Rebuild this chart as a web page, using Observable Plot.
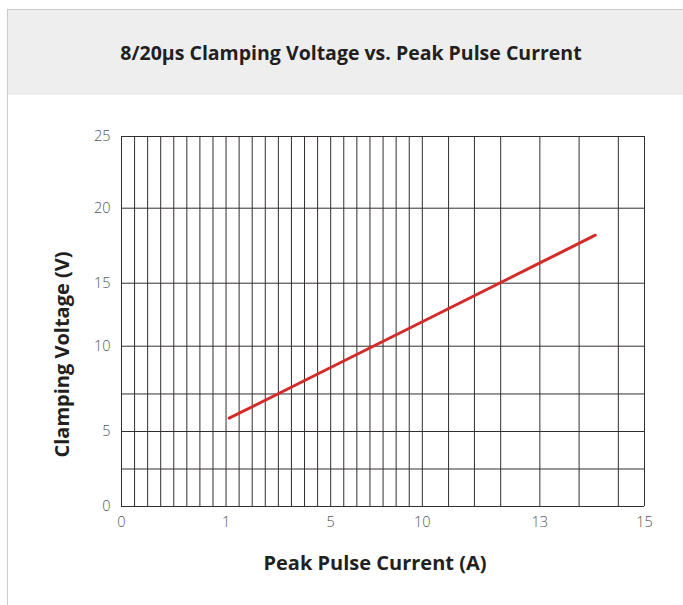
<!DOCTYPE html>
<html>
<head>
<meta charset="utf-8">
<script src="https://cdn.jsdelivr.net/npm/d3@7"></script>
<script src="https://cdn.jsdelivr.net/npm/@observablehq/plot@0.6"></script>
<style>
  html, body { margin: 0; padding: 0; background: #ffffff; }
  body { width: 683px; height: 605px; overflow: hidden; position: relative; font-family: "Open Sans", sans-serif; }
  #card { position: absolute; left: 7px; top: 9px; width: 686px; height: 620px;
          border-left: 1.5px solid #cbcbcb; border-top: 1.5px solid #cbcbcb; }
  #head { height: 85px; background: #eeeeee; display: flex; align-items: center; justify-content: center;
          font-weight: 700; font-size: 19.5px; color: #231f20; }
  #chart { position: absolute; left: 0; top: 95px; }
</style>
</head>
<body>
<div id="card"><div id="head">8/20µs Clamping Voltage vs. Peak Pulse Current</div></div>
<div id="chart"></div>
<script>
// Data
const current = [1.12, 5, 10, 13, 14.06];         // Peak Pulse Current (A)
const voltage = [5.78, 8.75, 11.94, 16.35, 18.2]; // Clamping Voltage (V)

// Axis tick labels (non-uniform chart paper)
const xTicks = [0, 1, 5, 10, 13, 15];
const yTicks = [0, 5, 10, 15, 20, 25];

// Grid line values
const xGrid = [0, 0.125, 0.25, 0.375, 0.5, 0.625, 0.75, 0.875, 1,
               1.5, 2, 2.5, 3, 3.5, 4, 4.5, 5,
               5.714, 6.429, 7.143, 7.857, 8.571, 9.286, 10,
               10.67, 11.33, 12, 13, 13.75, 14.5, 15];
const yGrid = [0, 2.5, 5, 7.2, 10, 15, 20, 25];

// Piecewise "chart paper" mapping of the labelled values (distance along the paper)
const xPaper = d3.scaleLinear().domain(xTicks).range([0, 104.6, 209.3, 301, 418.6, 523.3]);
const yPaper = d3.scaleLinear().domain(yTicks).range([0, 75, 160.3, 223.3, 298.3, 370]);

const points = current.map((c, i) => ({current: c, voltage: voltage[i]}));

const plot = Plot.plot({
  width: 683,
  height: 510,
  marginLeft: 121,
  marginRight: 39,
  marginTop: 41,
  marginBottom: 99,
  style: {fontFamily: "'Open Sans', sans-serif", fontSize: "14.5px", color: "#555555", background: "transparent", overflow: "visible"},
  x: {type: "linear", domain: [0, xPaper(15)], ticks: xTicks.map(xPaper), tickSize: 0, tickPadding: 10, label: null,
      tickFormat: p => String(Math.round(xPaper.invert(p)))},
  y: {type: "linear", domain: [0, yPaper(25)], ticks: yTicks.map(yPaper), tickSize: 0, tickPadding: 11, label: null,
      tickFormat: p => String(Math.round(yPaper.invert(p)))},
  marks: [
    Plot.ruleX(xGrid, {x: xPaper, y1: 0, y2: yPaper(25), stroke: "#342d2e", strokeWidth: 1}),
    Plot.ruleY(yGrid, {y: yPaper, x1: 0, x2: xPaper(15), stroke: "#342d2e", strokeWidth: 1}),
    Plot.line(points, {x: d => xPaper(d.current), y: d => yPaper(d.voltage), stroke: "#d42a28", strokeWidth: 3}),
    Plot.text(["Clamping Voltage (V)"], {frameAnchor: "left", textAnchor: "middle", lineAnchor: "middle", rotate: -90, dx: -59, dy: 33, fontSize: 20, fontWeight: 700, fill: "#231f20"}),
    Plot.text(["Peak Pulse Current (A)"], {frameAnchor: "bottom", textAnchor: "middle", lineAnchor: "middle", dx: -8, dy: 57, fontSize: 20, fontWeight: 700, fill: "#231f20"})
  ]
});
plot.querySelectorAll('[aria-label="x-axis tick label"] text, [aria-label="y-axis tick label"] text').forEach(t => t.setAttribute("font-weight", "300"));
document.getElementById("chart").appendChild(plot);
</script>
</body>
</html>
